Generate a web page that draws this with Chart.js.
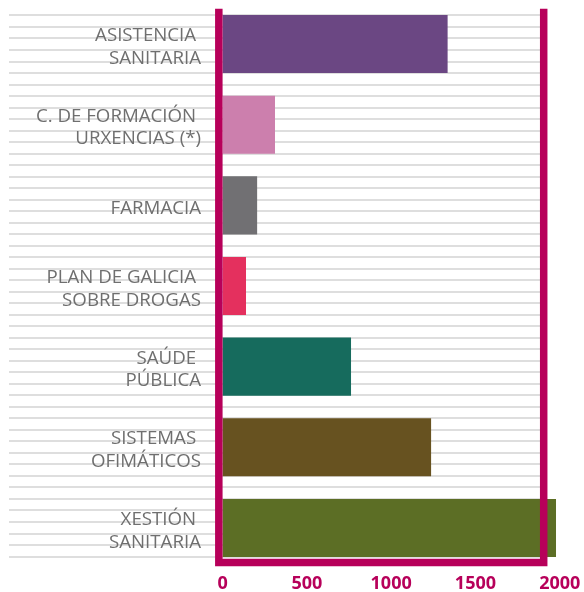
<!DOCTYPE html>
<html lang="gl">
<head>
    <meta charset="UTF-8">
    <title>Solicitudes por área</title>
    <script src="https://cdn.jsdelivr.net/npm/chart.js@4.4.1/dist/chart.umd.min.js"></script>
    <style>
        body {
            margin: 0;
            padding: 0;
            background-color: #ffffff;
        }
        #chartContainer {
            width: 584px;
            height: 592px;
        }
    </style>
</head>
<body>
    <div id="chartContainer">
        <canvas id="areasChart"></canvas>
    </div>

    <script>
        // Categories (trailing space on first line, as in the original)
        const categories = [
            ['ASISTENCIA ', 'SANITARIA'],
            ['C. DE FORMACIÓN ', 'URXENCIAS (*)'],
            'FARMACIA',
            ['PLAN DE GALICIA ', 'SOBRE DROGAS'],
            ['SAÚDE ', 'PÚBLICA'],
            ['SISTEMAS ', 'OFIMÁTICOS'],
            ['XESTIÓN ', 'SANITARIA']
        ];
        const values = [1335, 311, 205, 139, 762, 1237, 1978];
        const barColors = ['#6b4783', '#cc7fad', '#717073', '#e4305e', '#166b5d', '#675220', '#5c6e25'];
        const xTicks = [0, 500, 1000, 1500, 2000];

        const magenta = '#b7005a';

        // U-shaped frame around the bars (left, bottom, right)
        const framePlugin = {
            id: 'frame',
            afterDatasetsDraw(chart) {
                const {ctx, chartArea, scales} = chart;
                const w = 7.5;
                const x0 = scales.x.getPixelForValue(0) - w / 2;
                const xr = chartArea.right;
                const top = chartArea.top + 5;
                const bottom = chartArea.bottom - 5.8;
                ctx.save();
                ctx.strokeStyle = magenta;
                ctx.lineWidth = w;
                ctx.lineJoin = 'miter';
                ctx.beginPath();
                ctx.moveTo(x0, top);
                ctx.lineTo(x0, bottom);
                ctx.lineTo(xr, bottom);
                ctx.lineTo(xr, top);
                ctx.stroke();
                ctx.restore();
            }
        };

        const ctx = document.getElementById('areasChart').getContext('2d');
        new Chart(ctx, {
            type: 'bar',
            data: {
                labels: categories,
                datasets: [{
                    data: values,
                    backgroundColor: barColors,
                    borderWidth: 0,
                    clip: false
                }]
            },
            options: {
                indexAxis: 'y',
                responsive: true,
                maintainAspectRatio: false,
                animation: false,
                layout: {
                    padding: {left: 9, right: 40.3, top: 3.7, bottom: 0}
                },
                plugins: {
                    legend: {display: false},
                    tooltip: {enabled: false}
                },
                scales: {
                    x: {
                        min: -1267,
                        max: 1905,
                        grid: {display: false, drawTicks: false},
                        border: {display: false},
                        ticks: {
                            autoSkip: false,
                            maxRotation: 0,
                            padding: 5,
                            color: magenta,
                            font: {family: 'Open Sans', size: 18, weight: 'bold'},
                            callback: (v) => String(v)
                        },
                        afterBuildTicks: (scale) => {
                            scale.ticks = xTicks.map(v => ({value: v}));
                        },
                        afterFit: (scale) => {
                            scale.height = 23.7;
                            scale.paddingLeft = 0;
                            scale.paddingRight = 0;
                        }
                    },
                    y: {
                        type: 'category',
                        // labels end a little left of the zero line
                        position: {x: -128},
                        grid: {display: false, drawTicks: false},
                        border: {display: false},
                        ticks: {
                            padding: 0,
                            labelOffset: 3,
                            color: '#6f6f6f',
                            font: {family: 'Open Sans', size: 18.7, lineHeight: 1.21}
                        },
                        afterFit: (scale) => {
                            scale.paddingTop = 0;
                            scale.paddingBottom = 0;
                        }
                    },
                    // thin grey rules behind everything
                    yRules: {
                        type: 'linear',
                        position: 'left',
                        min: 0,
                        max: 48,
                        grid: {color: '#dedede', lineWidth: 2, drawTicks: false},
                        border: {display: false},
                        ticks: {display: false, stepSize: 1},
                        afterBuildTicks: (scale) => {
                            scale.ticks = scale.ticks.filter(t => t.value > 0 && t.value < 48);
                        },
                        afterFit: (scale) => {
                            scale.width = 0;
                            scale.paddingTop = 0;
                            scale.paddingBottom = 0;
                        }
                    }
                }
            },
            plugins: [framePlugin]
        });
    </script>
</body>
</html>
